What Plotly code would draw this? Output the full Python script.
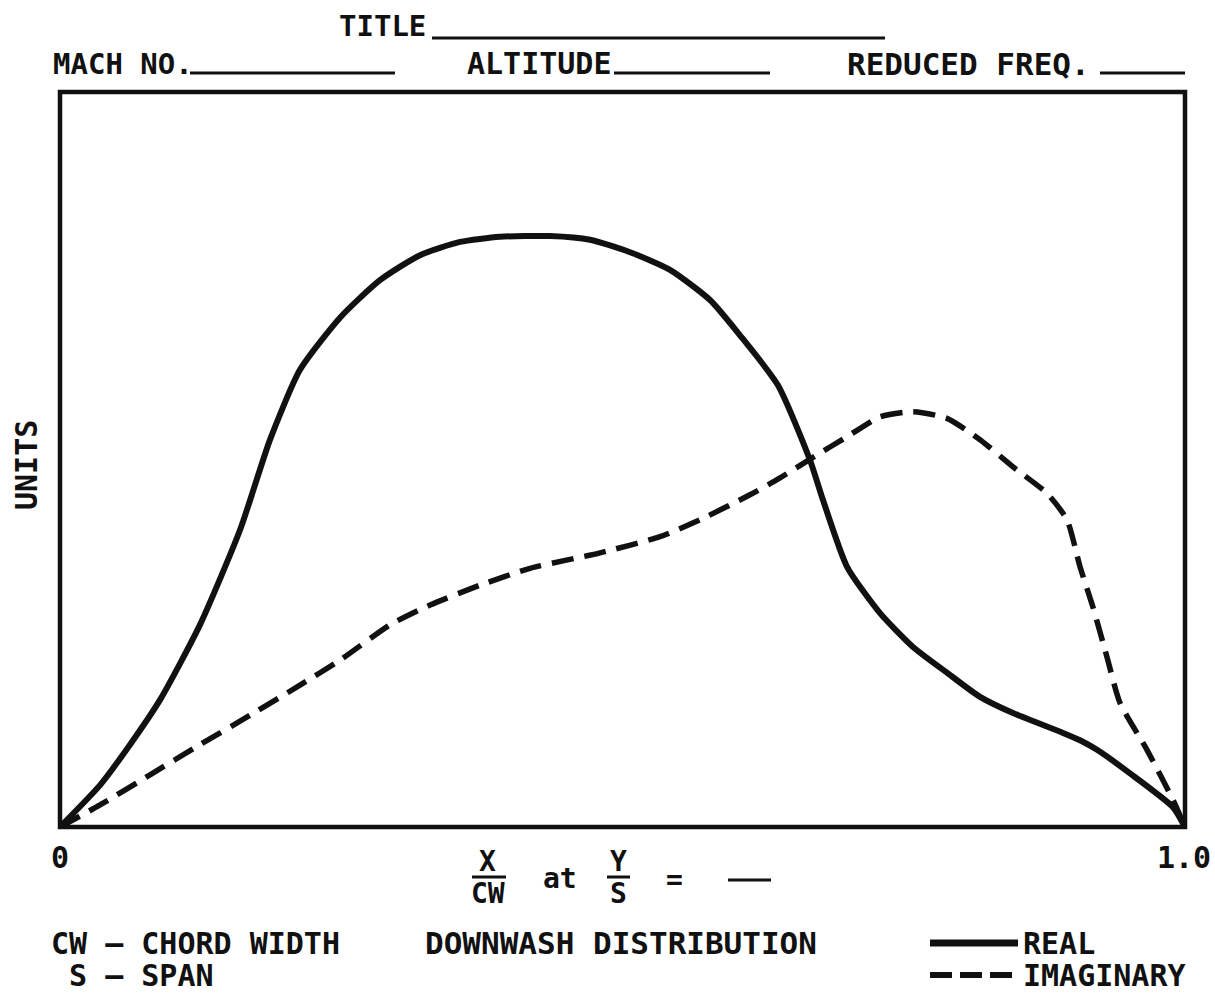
import plotly.graph_objects as go

# Chordwise position x/CW and downwash values (arbitrary units)
x_real = [0.0, 0.0356, 0.0622, 0.0889, 0.1244, 0.16, 0.1867, 0.2133, 0.2489, 0.2844,
          0.32, 0.3556, 0.3911, 0.4356, 0.4711, 0.5067, 0.5422, 0.5778, 0.6044, 0.6382,
          0.6667, 0.6782, 0.6996, 0.7289, 0.7582, 0.7884, 0.8178, 0.8471, 0.8916, 0.9067,
          0.9218, 0.9511, 0.9893, 1.0]
y_real = [0.0, 0.057, 0.112, 0.173, 0.275, 0.404, 0.527, 0.622, 0.693, 0.744,
          0.778, 0.796, 0.803, 0.804, 0.799, 0.782, 0.758, 0.717, 0.669, 0.601,
          0.499, 0.445, 0.354, 0.291, 0.245, 0.210, 0.177, 0.155, 0.128, 0.118,
          0.105, 0.073, 0.027, 0.0]

x_imag = [0.0, 0.0356, 0.08, 0.1244, 0.1689, 0.2133, 0.2489, 0.2933, 0.3289, 0.3733,
          0.4178, 0.48, 0.5333, 0.5689, 0.6133, 0.64, 0.6693, 0.6996, 0.7289, 0.7582,
          0.7884, 0.8178, 0.8471, 0.8773, 0.8951, 0.9067, 0.9182, 0.9307, 0.9422, 0.9662,
          0.9893, 1.0]
y_imag = [0.0, 0.030, 0.071, 0.112, 0.152, 0.193, 0.227, 0.275, 0.302, 0.329,
          0.352, 0.373, 0.395, 0.418, 0.452, 0.475, 0.503, 0.531, 0.558, 0.565,
          0.556, 0.527, 0.490, 0.454, 0.418, 0.354, 0.299, 0.231, 0.169, 0.105,
          0.037, 0.0]

x_tick_labels = ["0", "1.0"]

W, H = 1215, 998
L, R, T, B = 60, 1185, 92, 827
FONT = "DejaVu Sans Mono"
INK = "#111111"


def px(x):
    return (x - L) / (R - L)


def py(y):
    return (B - y) / (B - T)


fig = go.Figure()
fig.add_trace(go.Scatter(x=x_real, y=y_real, mode="lines", name="REAL",
                         line=dict(color=INK, width=6, shape="spline", smoothing=0.6),
                         cliponaxis=False))
fig.add_trace(go.Scatter(x=x_imag, y=y_imag, mode="lines", name="IMAGINARY",
                         line=dict(color=INK, width=5.5, dash="22px,11px", shape="spline", smoothing=0.6),
                         cliponaxis=False))

shapes = []
annotations = []


def text(s, x, y, size=30, xanchor="left", angle=0):
    annotations.append(dict(text="<b>" + s + "</b>", x=px(x), y=py(y), xref="paper", yref="paper",
                            xanchor=xanchor, yanchor="middle", showarrow=False, textangle=angle,
                            borderpad=0, font=dict(family=FONT, size=size, color=INK)))


def hline(x0, x1, y, w=3, dash="solid"):
    shapes.append(dict(type="line", xref="paper", yref="paper", x0=px(x0), x1=px(x1),
                       y0=py(y), y1=py(y), line=dict(color=INK, width=w, dash=dash)))


# Frame
shapes.append(dict(type="rect", xref="paper", yref="paper", x0=0, x1=1, y0=0, y1=1,
                   line=dict(color=INK, width=4.5)))

# Header fields
text("TITLE", 338, 26, size=29)
hline(432, 885, 38)
text("MACH NO.", 52, 64, size=29)
hline(190, 395, 73)
text("ALTITUDE", 466, 64, size=30)
hline(614, 770, 73)
text("REDUCED FREQ.", 846, 64, size=31)
hline(1100, 1185, 73)

# Axis labels
text("UNITS", 27, 465, xanchor="center", angle=-90)
text(x_tick_labels[0], 60, 857, xanchor="center")
text(x_tick_labels[1], 1212, 857, xanchor="right")

# x-axis label: X/CW at Y/S = __
text("X", 488, 861, size=28, xanchor="center")
hline(472, 506, 877, w=3)
text("CW", 488, 893, size=28, xanchor="center")
text("at", 560, 878, size=28, xanchor="center")
text("Y", 618, 861, size=28, xanchor="center")
hline(607, 630, 877, w=3)
text("S", 618, 893, size=28, xanchor="center")
text("=", 674, 880, size=28, xanchor="center")
hline(728, 771, 880, w=3)

# Footer
text("CW \u2013 CHORD WIDTH", 50, 943, size=30)
text(" S \u2013 SPAN", 50, 976, size=30)
text("DOWNWASH DISTRIBUTION", 424, 943, size=31)

# Legend samples
hline(930, 1018, 943, w=7)
text("REAL", 1022, 943, size=30)
hline(930, 1018, 975, w=6, dash="22px,8px")
text("IMAGINARY", 1022, 976, size=30)

fig.update_layout(
    width=W, height=H,
    margin=dict(l=L, r=W - R, t=T, b=H - B),
    paper_bgcolor="white", plot_bgcolor="white",
    showlegend=False,
    xaxis=dict(range=[0, 1], visible=False),
    yaxis=dict(range=[0, 1], visible=False),
    shapes=shapes, annotations=annotations,
)

fig.write_html("out.html")
